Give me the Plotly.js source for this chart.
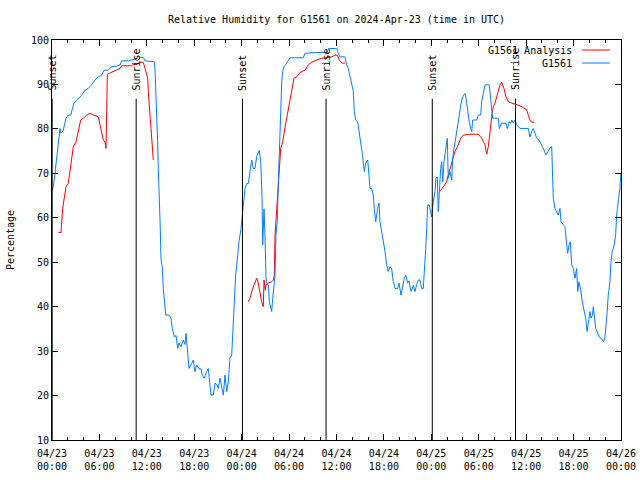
<!DOCTYPE html>
<html>
<head>
<meta charset="utf-8">
<script src="https://cdn.plot.ly/plotly-3.0.1.min.js"></script>
<style>html,body{margin:0;padding:0;background:#fff;}#chart{width:640px;height:480px;}</style>
</head>
<body>
<div id="chart"></div>
<script>
// Hours since 2024-04-23 00:00 UTC
const obsHours = [0,0.16,0.38,0.67,0.89,1.01,1.14,1.43,1.77,2.06,2.37,2.78,3.20,3.76,4.18,4.59,5.02,5.44,5.86,6.29,6.58,7.12,7.55,8.19,8.60,8.82,9.65,10.50,10.79,11.22,11.55,11.77,12.40,12.94,13.03,13.25,13.37,13.45,13.58,13.70,13.79,13.96,14.08,14.21,14.39,14.80,15.06,15.22,15.48,15.69,15.91,16.07,16.32,16.61,16.83,16.96,17.17,17.34,17.68,17.88,18.09,18.31,18.60,18.85,19.02,19.27,19.57,19.78,19.99,20.12,20.41,20.63,20.84,21.04,21.26,21.47,21.68,21.89,22.11,22.31,22.52,22.74,22.94,23.07,23.24,23.50,23.66,23.92,24.08,24.21,24.33,24.42,24.64,24.84,25.05,25.27,25.47,25.69,25.90,26.10,26.23,26.41,26.57,26.66,26.74,26.83,26.95,27.08,27.24,27.37,27.50,27.67,27.80,27.93,28.09,28.22,28.34,28.51,28.63,28.76,28.85,28.94,29.07,29.19,29.36,29.70,30.12,31.80,32.01,33.49,34.83,34.96,36.02,36.23,36.44,37.07,37.29,37.49,37.71,37.92,38.13,38.25,38.43,38.68,38.85,39.10,39.26,39.52,39.69,39.95,40.11,40.24,40.45,40.66,40.78,40.96,41.21,41.38,41.50,41.72,41.92,42.14,42.35,42.55,42.77,42.98,43.19,43.40,43.74,43.91,44.16,44.33,44.58,44.76,45.01,45.17,45.43,45.72,45.93,46.15,46.35,46.56,46.78,46.98,47.20,47.29,47.41,47.54,47.74,47.83,48.04,48.25,48.46,48.59,48.75,48.88,49.01,49.18,49.31,49.44,49.60,49.73,49.94,50.02,50.14,50.36,50.58,50.70,50.87,51.12,51.28,51.54,51.71,51.97,52.26,52.39,52.55,52.80,52.98,53.11,53.23,53.74,53.94,54.25,54.37,54.57,54.79,55.33,55.51,55.64,55.76,56.47,56.60,56.90,57.45,57.61,57.86,58.04,58.17,58.37,58.59,58.80,59.22,60.27,60.48,60.70,60.90,61.12,61.33,61.62,61.96,62.29,62.47,62.80,63.14,63.23,63.30,63.43,63.65,63.86,64.06,64.28,64.41,64.70,64.91,65.13,65.25,65.42,65.58,65.76,65.96,66.18,66.39,66.52,66.68,66.94,67.10,67.36,67.53,67.70,67.86,68.08,68.20,68.37,68.50,68.62,68.80,69.05,69.21,69.47,69.63,69.81,69.97,70.10,70.22,70.39,70.60,70.73,70.89,71.14,71.32,71.45,71.65,71.86,71.99];
const obsRH = [66,67,70,74.9,78.2,80.1,79,79.7,82.4,83.1,83.1,85.8,86.5,87.6,88.7,89.1,89.9,91,91.7,92.1,93.2,93.2,94,94.1,94.4,95.3,95.3,95.7,95.3,96.1,96.1,95.3,95.2,95.1,93.6,84.6,77.1,71.1,65.1,57.7,50.9,48.7,44.2,41.1,38.1,38.1,37.4,35.1,33.2,33.5,30.6,31.8,31,32.5,31.5,34,28.4,26.1,27.2,28,25.4,26.9,26,26,24.6,23.9,25.4,26.1,22.4,20.1,20.1,22.8,22.5,21.6,23.9,22,20.1,24.6,20.9,23.1,28.4,29.1,37.4,43.4,47.1,51.6,54.6,57.6,60.2,62.1,64.5,66.6,67.7,67.7,70.4,73,71.1,71.1,73.8,74.5,75.2,72.6,65.1,53.9,59.1,62,56.1,46.4,44.9,44.9,41.1,39.6,38.9,41.9,44.1,47.1,56.1,59.1,67.4,73.4,78.6,86.1,90.6,92.9,94,94.8,96,96,97,97.2,97.2,98.1,98.1,97,96.2,96.2,94.4,93.6,91.7,90.3,88.4,83.9,82,81.6,79.4,77.1,74.5,70.4,72.3,73,68.9,66.6,66.6,65.1,62.1,59.1,62.1,63.3,59.1,56.9,54.6,52.4,49.4,47.9,49,48.5,45.6,44.1,44.1,45.3,42.6,44.1,46.4,47.1,45.3,45.8,43.4,44.8,43.4,45,46,46,44.1,44.1,49.4,53.1,57.6,62.9,62.9,62.1,60.2,63.6,65.9,68.9,69.2,61.4,66.6,71.1,72.6,68,72.6,74.1,76.4,77.9,68.9,70.4,68.5,73.4,75.6,77.9,80.1,83.1,85.4,87.2,88,86.9,84.6,81.6,80.1,79.4,82,82,83.1,83.1,86.1,88.4,89.9,89.9,86.1,83.1,82.4,82.4,80.1,81.3,81.3,80.1,81.6,81.2,82,81.3,82,80.9,80.1,80.1,78.2,79.4,80.1,79,77.9,77.5,76.4,75.2,74.1,75.2,76,76,68.9,64.4,62.1,61.4,60.6,62.1,59.1,58.4,58,53.9,52,53.9,54.6,49.4,48.6,46.4,48.6,43.4,45.6,43.4,41.1,38.9,37.4,34.4,36.6,38.9,37.4,38,40,38.1,35.1,34,33.2,32.9,32.5,32.1,33.2,35.1,38.1,42.6,45.6,50.1,52.4,53.9,56.1,60.6,63.6,66.6,70];

const anaHours = [0.80,1.14,1.35,1.56,1.77,2.06,2.28,2.49,2.70,3.04,3.33,3.63,3.96,4.39,4.81,5.23,5.86,6.07,6.29,6.49,6.71,6.83,6.92,7.00,7.25,7.76,8.19,8.60,8.82,10.08,10.29,10.79,11.05,11.55,11.77,11.98,12.11,12.19,12.27,12.40,12.53,12.62,12.82,
  18.0,
  24.84,25.05,25.40,25.69,25.90,26.10,26.32,26.53,26.74,26.83,26.99,27.08,27.37,27.80,28.00,28.13,28.22,28.34,28.51,28.69,28.76,28.94,29.19,29.36,29.61,29.77,30.03,30.20,30.46,30.62,30.96,31.29,31.60,32.01,32.43,32.86,33.49,34.13,34.76,35.39,35.81,36.10,36.35,36.66,37.07,
  43.0,
  49.10,49.51,49.94,50.14,50.36,50.58,50.78,50.99,51.41,51.71,52.04,52.89,53.94,54.37,54.79,55.00,55.21,55.42,55.64,55.84,56.05,56.27,56.47,56.69,56.90,57.19,57.45,57.74,58.17,58.71,59.22,59.64,60.07,60.27,60.48,60.70,61.03];
const anaRH = [56.7,56.7,62.1,64.7,67,67.7,70.4,72.6,76,77.1,79.4,82,82.4,83.1,83.5,83.1,82.7,80.9,79.4,77.5,77,75.6,83.9,92.3,92.5,92.9,93.2,93.6,94.2,94.2,94.5,94.5,95,95,93.6,92.5,91.4,88.4,85.4,83.1,80.1,77.1,73,
  null,
  41.1,41.9,44.1,45.3,46.4,45.3,43,41.1,40,46,43.7,44.9,45.3,45.6,46,47.1,56.1,59.1,63.6,68.1,71.1,75.6,77.1,79.4,81.6,83.1,85.4,87.6,89.9,91.4,91.7,92.5,92.9,93.2,94.4,95,95.5,95.9,96,96.2,96.6,96.6,95.5,94.8,94.8,
  null,
  65.9,67,68.1,69.6,71.1,72.6,73.4,74.9,76.4,77.9,78.6,78.8,78.8,77.9,76.4,74.3,76,80.1,82.7,85,85.8,87.2,88.7,89.9,90.5,89.1,87.2,86.1,85.8,85.5,85.2,84.8,84.3,83.1,82,81.5,81.5];

const sunHours = [0.02,10.65,24.10,34.68,48.12,58.65];
const sunLabels = ["Sunset","Sunrise","Sunset","Sunrise","Sunset","Sunrise"];
const tickHours = [0,6,12,18,24,30,36,42,48,54,60,66,72];
const tickLabels = ["04/23<br>00:00","04/23<br>06:00","04/23<br>12:00","04/23<br>18:00","04/24<br>00:00","04/24<br>06:00","04/24<br>12:00","04/24<br>18:00","04/25<br>00:00","04/25<br>06:00","04/25<br>12:00","04/25<br>18:00","04/26<br>00:00"];
const seriesNames = ["G1561 Analysis","G1561"];
const seriesColors = ["#ff0000","#0080ff"];

const FONT = "DejaVu Sans Mono, Liberation Mono, monospace";

const traces = [
  {x: anaHours, y: anaRH, name: seriesNames[0], type: 'scatter', mode: 'lines', connectgaps: false,
   line: {color: seriesColors[0], width: 1}},
  {x: obsHours, y: obsRH, name: seriesNames[1], type: 'scatter', mode: 'lines',
   line: {color: seriesColors[1], width: 1}}
];

const shapes = [];
const annotations = [];
sunHours.forEach((h, i) => {
  shapes.push({type: 'line', xref: 'x', yref: 'y', x0: h, x1: h, y0: 10, y1: 86.8,
    line: {color: '#000', width: 1}});
  annotations.push({xref: 'x', yref: 'y', x: h, y: 88.2, text: sunLabels[i], textangle: -90,
    showarrow: false, xanchor: 'center', yanchor: 'bottom', font: {family: FONT, size: 10, color: '#000'}});
});
// legend (gnuplot style: text then line sample)
seriesNames.forEach((n, i) => {
  const yp = 0.975 - i * 0.0325;
  annotations.push({xref: 'paper', yref: 'paper', x: 0.918, y: yp, text: n, showarrow: false,
    xanchor: 'right', yanchor: 'middle', font: {family: FONT, size: 10, color: '#000'}});
  shapes.push({type: 'line', xref: 'paper', yref: 'paper', x0: 0.9315, x1: 0.9807, y0: yp, y1: yp,
    line: {color: seriesColors[i], width: 1}});
});

const layout = {
  width: 640, height: 480,
  margin: {l: 52, r: 19, t: 40, b: 40},
  paper_bgcolor: '#fff', plot_bgcolor: '#fff',
  showlegend: false,
  font: {family: FONT, size: 10, color: '#000'},
  title: {text: 'Relative Humidity for G1561 on 2024-Apr-23 (time in UTC)', x: 0.5, xref: 'paper',
    y: 0.96, yanchor: 'middle', font: {family: FONT, size: 10, color: '#000'}},
  xaxis: {range: [0, 72], tickvals: tickHours, ticktext: tickLabels, ticks: 'inside', ticklen: 6,
    tickcolor: '#000', showline: true, linecolor: '#000', linewidth: 1, mirror: 'ticks',
    ticklabelstandoff: 4,
    showgrid: false, zeroline: false, tickfont: {family: FONT, size: 10, color: '#000'},
    minor: {dtick: 2, tick0: 0, ticks: 'inside', ticklen: 3, tickcolor: '#000', showgrid: false}},
  yaxis: {range: [10, 100], dtick: 10, tick0: 10, ticks: 'inside', ticklen: 6, tickcolor: '#000',
    showline: true, linecolor: '#000', linewidth: 1, mirror: 'ticks', showgrid: false, zeroline: false,
    tickfont: {family: FONT, size: 10, color: '#000'},
    title: {text: 'Percentage', standoff: 14, font: {family: FONT, size: 10, color: '#000'}}},
  shapes: shapes,
  annotations: annotations
};

Plotly.newPlot('chart', traces, layout, {staticPlot: true, displayModeBar: false});
</script>
</body>
</html>
